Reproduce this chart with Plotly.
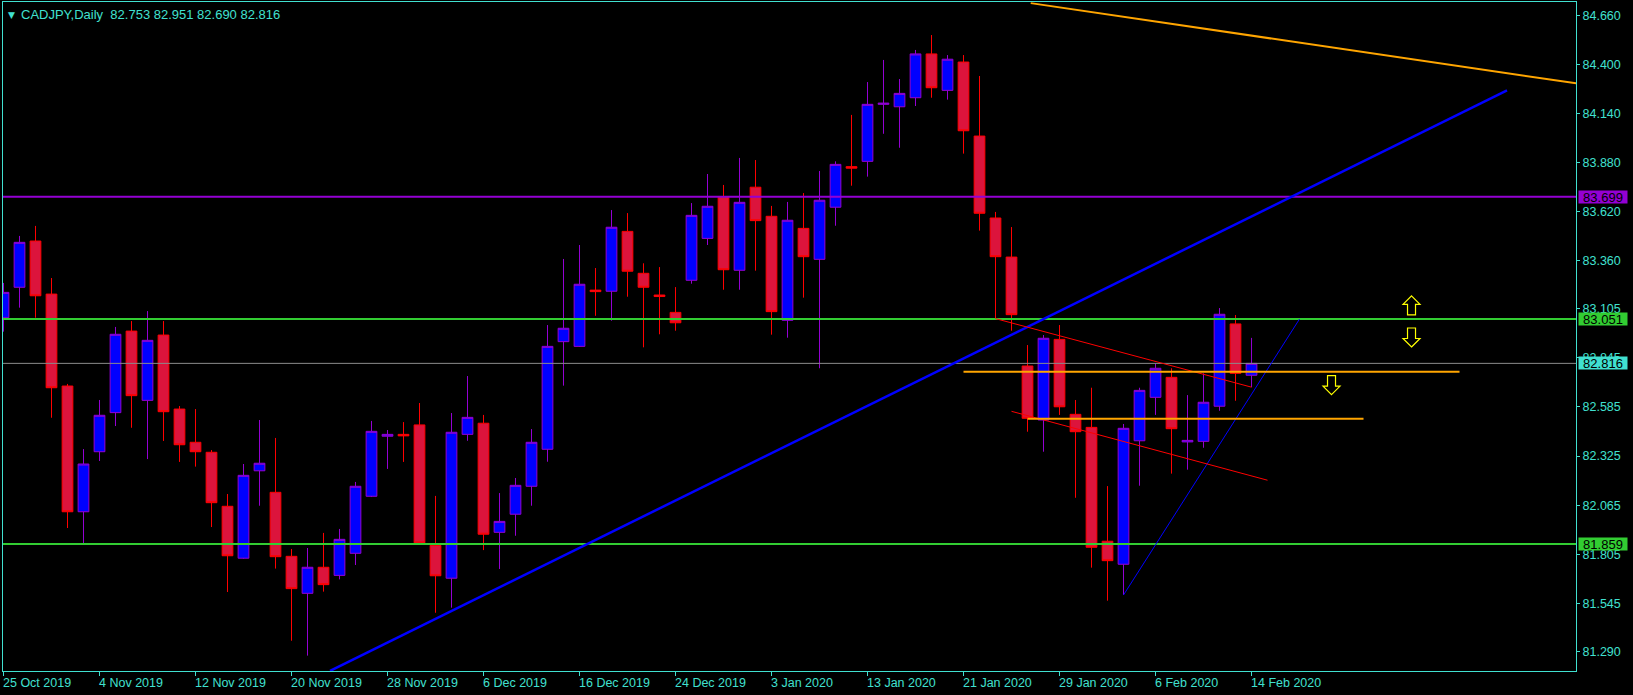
import pandas as pd
import plotly.graph_objects as go

# ---------------- data ----------------
dates = [d for d in pd.bdate_range("2019-10-25", "2020-02-14")
         if d.strftime("%Y-%m-%d") not in ("2019-12-25", "2020-01-01")]
date_labels = [f"{d.day} {d.strftime('%b %Y')}" for d in dates]

open_ = [83.058, 83.219, 83.464, 83.183, 82.696, 82.030, 82.348, 82.555, 82.987, 82.620,
         82.966, 82.574, 82.398, 82.345, 82.059, 81.784, 82.247, 82.133, 81.794, 81.598,
         81.736, 81.693, 81.810, 82.112, 82.430, 82.440, 82.490, 81.852, 81.678, 82.440,
         82.499, 81.921, 82.017, 82.165, 82.361, 82.931, 82.906, 83.204, 83.198, 83.515,
         83.293, 83.178, 83.086, 83.256, 83.478, 83.699, 83.309, 83.749, 83.595, 83.044,
         83.531, 83.367, 83.643, 83.858, 83.886, 84.188, 84.175, 84.223, 84.455, 84.262,
         84.412, 84.020, 83.586, 83.379, 82.802, 82.516, 82.943, 82.546, 82.477, 81.874,
         81.752, 82.406, 82.636, 82.742, 82.400, 82.403, 82.589, 83.025, 82.753]
high = [83.242, 83.491, 83.544, 83.268, 82.707, 82.362, 82.622, 83.009, 83.040, 83.093,
        83.040, 82.590, 82.574, 82.357, 82.124, 82.283, 82.516, 82.421, 81.833, 81.838,
        81.918, 81.939, 82.188, 82.511, 82.463, 82.505, 82.606, 82.114, 82.553, 82.749,
        82.543, 82.129, 82.209, 82.468, 83.019, 83.369, 83.443, 83.321, 83.628, 83.612,
        83.346, 83.326, 83.220, 83.665, 83.819, 83.761, 83.904, 83.893, 83.650, 83.671,
        83.718, 83.835, 83.886, 84.132, 84.306, 84.423, 84.322, 84.476, 84.555, 84.449,
        84.449, 84.338, 83.618, 83.538, 82.913, 82.966, 83.019, 82.622, 82.687, 82.166,
        82.495, 82.687, 82.816, 82.790, 82.648, 82.763, 83.109, 83.072, 82.951]
low = [82.984, 83.111, 83.058, 82.528, 81.944, 81.863, 82.299, 82.484, 82.475, 82.309,
       82.405, 82.294, 82.269, 81.949, 81.605, 81.781, 82.062, 81.729, 81.347, 81.268,
       81.607, 81.672, 81.748, 82.108, 82.257, 82.294, 81.862, 81.495, 81.522, 82.406,
       81.827, 81.727, 81.903, 82.062, 82.295, 82.698, 82.903, 83.068, 83.042, 83.169,
       82.901, 82.970, 82.989, 83.238, 83.443, 83.206, 83.206, 83.307, 82.968, 82.952,
       83.164, 82.790, 83.545, 83.757, 83.805, 84.032, 83.958, 84.179, 84.223, 84.213,
       83.927, 83.519, 83.053, 82.989, 82.454, 82.348, 82.543, 82.104, 81.734, 81.559,
       81.589, 82.168, 82.543, 82.232, 82.253, 82.369, 82.565, 82.618, 82.690]
close = [83.192, 83.457, 83.174, 82.687, 82.030, 82.283, 82.541, 82.970, 82.645, 82.938,
         82.560, 82.385, 82.348, 82.078, 81.797, 82.223, 82.287, 81.792, 81.623, 81.736,
         81.644, 81.884, 82.165, 82.456, 82.440, 82.432, 81.865, 81.691, 82.451, 82.530,
         81.911, 81.979, 82.170, 82.398, 82.906, 83.002, 83.235, 83.196, 83.537, 83.304,
         83.219, 83.170, 83.031, 83.600, 83.648, 83.312, 83.669, 83.572, 83.090, 83.574,
         83.381, 83.680, 83.870, 83.850, 84.188, 84.194, 84.246, 84.455, 84.276, 84.427,
         84.048, 83.611, 83.381, 83.074, 82.525, 82.949, 82.586, 82.454, 81.842, 81.771,
         82.472, 82.673, 82.790, 82.470, 82.408, 82.610, 83.076, 82.763, 82.816]

price_ticks = [84.660, 84.400, 84.140, 83.880, 83.620, 83.360, 83.105, 82.845,
               82.585, 82.325, 82.065, 81.805, 81.545, 81.290]
label_step = 6

# horizontal levels: (price, line colour, box colour, width)
levels = [(83.699, "#9400D3", "#9400D3", 2),
          (83.051, "#32CD32", "#32CD32", 2),
          (81.859, "#32CD32", "#32CD32", 2),
          (82.816, "#8c8c8c", "#40E0D0", 1)]

# drawn objects in (bar index, price)
trend_lines = [
    ((64.2, 84.724), (98.3, 84.299), "#FFA500", 2),   # orange descending
    ((20.41, 81.187), (93.97, 84.262), "#0000FF", 2.5),  # thick blue up trend
    ((70, 81.589), (81.0, 83.051), "#0000FF", 1),     # thin blue
    ((62, 83.053), (78, 82.690), "#FF0000", 1),       # channel top
    ((63, 82.562), (79, 82.197), "#FF0000", 1),       # channel bottom
    ((60, 82.772), (91, 82.772), "#FFA500", 2),       # orange level
    ((64, 82.523), (85, 82.523), "#FFA500", 2),       # orange level
]
# arrow markers: (bar index, price, direction)
arrows = [(88, 83.123, "up"), (88, 82.953, "down"), (83, 82.701, "down")]

header = "CADJPY,Daily\u00a0\u00a082.753 82.951 82.690 82.816"

# ---------------- figure ----------------
TURQ = "#40E0D0"
FONT = "Liberation Sans"
x = list(range(len(dates)))

fig = go.Figure()
fig.add_trace(go.Candlestick(
    x=x, open=open_, high=high, low=low, close=close,
    increasing=dict(line=dict(color="#9400D3", width=1), fillcolor="#0000FF"),
    decreasing=dict(line=dict(color="#FF0000", width=1), fillcolor="#DC143C"),
    whiskerwidth=0, showlegend=False, hoverinfo="skip"))

shapes = []
for p, lc, bc, w in levels:
    shapes.append(dict(type="line", xref="paper", x0=0, x1=1, yref="y", y0=p, y1=p,
                       line=dict(color=lc, width=w)))
for (x0, y0), (x1, y1), c, w in trend_lines:
    shapes.append(dict(type="line", xref="x", yref="y", x0=x0, y0=y0, x1=x1, y1=y1,
                       line=dict(color=c, width=w)))

# hollow block arrow outline (pixel offsets, y up)
def arrow_path(direction):
    pts = [(0, 9.5), (8.5, 1.0), (4, 1.0), (4, -9.5), (-4, -9.5), (-4, 1.0), (-8.5, 1.0)]
    s = 1 if direction == "up" else -1
    return "M " + " L ".join(f"{px},{s * py}" for px, py in pts) + " Z"

for xi, p, d in arrows:
    shapes.append(dict(type="path", xref="x", yref="y", xsizemode="pixel", ysizemode="pixel",
                       xanchor=xi, yanchor=p, path=arrow_path(d),
                       fillcolor="#000000", line=dict(color="#FFFF00", width=1.2)))

annotations = []
tick_idx = list(range(0, len(dates), label_step))
for i in tick_idx:
    annotations.append(dict(x=i, xref="x", y=0, yref="paper", xanchor="left", yanchor="top",
                            xshift=-3, yshift=-3, text=date_labels[i], showarrow=False,
                            font=dict(family=FONT, size=12.5, color=TURQ)))
for p, lc, bc, w in levels:
    annotations.append(dict(x=1, xref="paper", y=p, yref="y", xanchor="left", yanchor="middle",
                            xshift=2, text=f"{p:.3f}", showarrow=False, bgcolor=bc,
                            width=48, height=12, borderpad=0, align="center",
                            font=dict(family=FONT, size=13, color="#000000")))
annotations.append(dict(x=0, xref="paper", y=1, yref="paper", xanchor="left", yanchor="top",
                        xshift=3, yshift=-6, text="▼", showarrow=False,
                        font=dict(family="DejaVu Sans", size=9, color=TURQ)))
annotations.append(dict(x=0, xref="paper", y=1, yref="paper", xanchor="left", yanchor="top",
                        xshift=16, yshift=-3, text=header, showarrow=False,
                        font=dict(family=FONT, size=13, color=TURQ)))

fig.update_layout(
    width=1633, height=695,
    margin=dict(l=3, r=57, t=2, b=24, pad=0),
    paper_bgcolor="#000000", plot_bgcolor="#000000",
    boxgap=0.33, boxgroupgap=0,
    shapes=shapes, annotations=annotations,
    xaxis=dict(range=[-0.031, 98.28], showgrid=False, zeroline=False,
               showline=True, mirror=True, linecolor=TURQ, linewidth=1,
               ticks="outside", ticklen=4, tickcolor=TURQ, tickvals=tick_idx,
               showticklabels=False, rangeslider=dict(visible=False), fixedrange=True),
    yaxis=dict(side="right", range=[81.1866, 84.730], showgrid=False, zeroline=False,
               showline=True, mirror=True, linecolor=TURQ, linewidth=1,
               ticks="outside", ticklen=3, tickcolor=TURQ,
               tickvals=price_ticks, ticktext=[f"{v:.3f}" for v in price_ticks],
               tickfont=dict(family=FONT, size=12.5, color=TURQ), fixedrange=True),
)

fig.write_html("out.html", config={"displayModeBar": False},
               post_script="document.body.style.margin='0';document.body.style.background='black';")
